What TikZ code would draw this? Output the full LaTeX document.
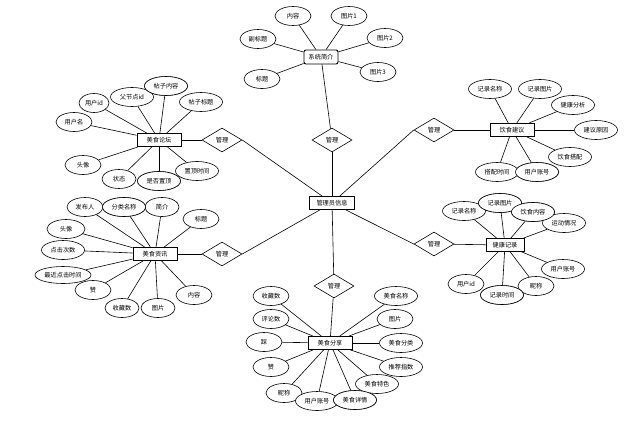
\documentclass[tikz,border=0pt]{standalone}
\usepackage{fontspec}
\setmainfont{Noto Sans CJK SC}
\usetikzlibrary{shapes.geometric}
\begin{document}
\begin{tikzpicture}[x=1pt,y=-1pt,
 font=\fontsize{6.2}{7}\selectfont,
 ent/.style={draw, line width=0.9pt, minimum width=44pt, minimum height=13pt, inner sep=1pt, fill=white},
 attr/.style={draw, ellipse, line width=0.6pt, minimum width=36pt, minimum height=19pt, inner sep=0pt, fill=white},
 wattr/.style={attr, minimum width=43pt},
 xattr/.style={attr, minimum width=56pt, minimum height=17pt},
 rel/.style={draw, diamond, aspect=1.67, minimum width=40pt, minimum height=24pt, inner sep=0pt, line width=0.6pt, fill=white},
 lk/.style={line width=0.6pt}]
\useasboundingbox (0,0) rectangle (639,426);

% centre
\node[ent, minimum width=45pt] (adm) at (332,203) {管理员信息};

% system intro
\node[ent, rounded corners=2pt, minimum width=34pt, minimum height=14pt] (sys) at (321,57) {系统简介};
\node[attr] (s1) at (293,16) {内容};
\node[attr] (s2) at (349,16) {图片1};
\node[attr] (s3) at (258,39) {副标题};
\node[attr] (s4) at (385,38) {图片2};
\node[attr] (s5) at (262,79) {标题};
\node[attr] (s6) at (378,72) {图片3};
\node[rel] (r1) at (332,140) {管理};
\foreach \a in {s1,s2,s3,s4,s5,s6} \draw[lk] (sys) -- (\a);
\draw[lk] (sys) -- (r1);
\draw[lk] (r1) -- (adm);

% forum
\node[ent] (lt) at (159,140) {美食论坛};
\node[rel] (r2) at (222,140) {管理};
\node[attr, minimum width=30pt] (l1) at (94,103) {用户id};
\node[wattr] (l2) at (132,97) {父节点id};
\node[wattr] (l3) at (166,86) {帖子内容};
\node[wattr] (l4) at (201,102) {帖子标题};
\node[attr] (l5) at (74,122) {用户名};
\node[attr] (l6) at (83,165) {头像};
\node[attr, minimum width=34pt] (l7) at (119,179) {状态};
\node[wattr] (l8) at (159,181) {是否置顶};
\node[wattr] (l9) at (197,171) {置顶时间};
\foreach \a in {l1,l2,l3,l4,l5,l6,l7,l8,l9} \draw[lk] (lt) -- (\a);
\node[wattr] at (166,86) {帖子内容};
\node[wattr] at (159,181) {是否置顶};
\draw[lk] (lt) -- (r2);
\draw[lk] (r2.east) -- (adm);

% news
\node[ent] (zx) at (155,254) {美食资讯};
\node[rel] (r3) at (222,254) {管理};
\node[attr] (z1) at (85,207) {发布人};
\node[wattr] (z2) at (124,207) {分类名称};
\node[attr, minimum width=34pt] (z3) at (162,207) {简介};
\node[attr] (z4) at (201,219) {标题};
\node[attr, minimum width=38pt] (z5) at (66,229) {头像};
\node[wattr] (z6) at (63,250) {点击次数};
\node[xattr] (z7) at (63,275) {最近点击时间};
\node[attr] (z8) at (93,290) {赞};
\node[attr, minimum width=34pt] (z9) at (122,308) {收藏数};
\node[attr, minimum width=34pt] (z10) at (158,308) {图片};
\node[attr] (z11) at (194,295) {内容};
\foreach \a in {z1,z2,z3,z4,z5,z6,z7,z8,z9,z10,z11} \draw[lk] (zx) -- (\a);
\node[wattr] at (124,207) {分类名称};
\draw[lk] (zx) -- (r3);
\draw[lk] (r3.east) -- (adm);

% share
\node[ent] (fx) at (330,343) {美食分享};
\node[rel] (r4) at (334,286) {管理};
\node[attr] (f1) at (271,296) {收藏数};
\node[attr] (f2) at (271,319) {评论数};
\node[attr] (f3) at (264,342) {踩};
\node[attr] (f4) at (271,367) {赞};
\node[attr] (f5) at (284,393) {昵称};
\node[wattr] (f6) at (317,401) {用户账号};
\node[wattr] (f7) at (355,400) {美食详情};
\node[wattr] (f8) at (377,384) {美食特色};
\node[wattr] (f9) at (401,367) {推荐指数};
\node[wattr] (f10) at (401,343) {美食分类};
\node[attr] (f11) at (395,319) {图片};
\node[wattr] (f12) at (396,296) {美食名称};
\foreach \a in {f1,f2,f3,f4,f5,f6,f7,f8,f9,f10,f11,f12} \draw[lk] (fx) -- (\a);
\node[wattr] at (355,400) {美食详情};
\draw[lk] (fx) -- (r4);
\draw[lk] (r4) -- (adm);

% diet advice
\node[ent] (jy) at (512,130) {饮食建议};
\node[rel] (r5) at (434,130) {管理};
\node[wattr] (j1) at (490,89) {记录名称};
\node[wattr] (j2) at (540,89) {记录图片};
\node[wattr] (j3) at (573,105) {健康分析};
\node[wattr] (j4) at (596,130) {建议原因};
\node[wattr] (j5) at (570,157) {饮食搭配};
\node[wattr] (j6) at (537,172) {用户账号};
\node[wattr] (j7) at (497,172) {搭配时间};
\foreach \a in {j1,j2,j3,j4,j5,j6,j7} \draw[lk] (jy) -- (\a);
\node[wattr] at (537,172) {用户账号};
\draw[lk] (jy) -- (r5);
\draw[lk] (r5.west) -- (adm);

% health record
\node[ent, minimum width=38pt] (jk) at (505,245) {健康记录};
\node[rel] (r6) at (434,244) {管理};
\node[wattr] (k1) at (464,211) {记录名称};
\node[wattr] (k2) at (500,203) {记录图片};
\node[wattr] (k3) at (533,212) {饮食内容};
\node[wattr] (k4) at (564,223) {运动情况};
\node[wattr] (k5) at (563,269) {用户账号};
\node[attr] (k6) at (536,286) {昵称};
\node[wattr] (k7) at (502,295) {记录时间};
\node[attr] (k8) at (466,284) {用户id};
\foreach \a in {k1,k2,k3,k4,k5,k6,k7,k8} \draw[lk] (jk) -- (\a);
\node[wattr] at (500,203) {记录图片};
\node[wattr] at (533,212) {饮食内容};
\node[wattr] at (502,295) {记录时间};
\draw[lk] (jk) -- (r6);
\draw[lk] (r6.west) -- (adm);
\end{tikzpicture}
\end{document}
